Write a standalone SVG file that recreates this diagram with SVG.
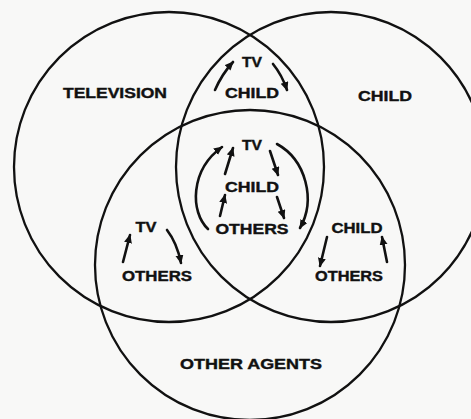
<svg xmlns="http://www.w3.org/2000/svg" width="471" height="419" viewBox="0 0 471 419">
<style>
.c{fill:none;stroke:#111;stroke-width:2.3}
.t{font-family:"Liberation Sans",Arial,sans-serif;font-weight:bold;font-size:15px;fill:#111;stroke:#111;stroke-width:0.4;text-anchor:middle}
.a{fill:none;stroke:#111;stroke-width:2.6;stroke-linecap:round;marker-end:url(#h)}
</style>
<defs>
<marker id="h" markerUnits="userSpaceOnUse" markerWidth="12" markerHeight="10" refX="8" refY="4" orient="auto">
<path d="M0,0 L9,4 L0,8 Z" fill="#111"/>
</marker>
</defs>
<rect width="471" height="419" fill="#f8f8f7"/>
<g id="television">
<circle class="c" cx="169" cy="167" r="155"/>
<text class="t" x="115" y="98" textLength="104" lengthAdjust="spacingAndGlyphs">TELEVISION</text>
</g>
<g id="child">
<circle class="c" cx="331" cy="167" r="155"/>
<text class="t" x="385" y="101" textLength="54" lengthAdjust="spacingAndGlyphs">CHILD</text>
</g>
<g id="other-agents">
<circle class="c" cx="250" cy="265" r="155"/>
<text class="t" x="251" y="369" textLength="142" lengthAdjust="spacingAndGlyphs">OTHER AGENTS</text>
</g>
<g id="tv-child">
<text class="t" x="252" y="67" textLength="20" lengthAdjust="spacingAndGlyphs">TV</text>
<text class="t" x="252" y="98" textLength="54" lengthAdjust="spacingAndGlyphs">CHILD</text>
</g>
<g id="all-three">
<text class="t" x="252" y="150" textLength="20" lengthAdjust="spacingAndGlyphs">TV</text>
<text class="t" x="252" y="192" textLength="54" lengthAdjust="spacingAndGlyphs">CHILD</text>
<text class="t" x="252" y="234" textLength="73" lengthAdjust="spacingAndGlyphs">OTHERS</text>
</g>
<g id="tv-others">
<text class="t" x="146" y="232" textLength="21" lengthAdjust="spacingAndGlyphs">TV</text>
<text class="t" x="157" y="281" textLength="70" lengthAdjust="spacingAndGlyphs">OTHERS</text>
</g>
<g id="child-others">
<text class="t" x="357" y="233" textLength="51" lengthAdjust="spacingAndGlyphs">CHILD</text>
<text class="t" x="349" y="281" textLength="68" lengthAdjust="spacingAndGlyphs">OTHERS</text>
</g>
<g id="connectors">
<path class="a" d="M215,90 Q222,74 233,62"/>
<path class="a" d="M273,64 Q282,75 287,90"/>
<path class="a" d="M208,229 C190,212 190,170 222,147"/>
<path class="a" d="M225,174 L233,148"/>
<path class="a" d="M220,216 L225,195"/>
<path class="a" d="M270,151 L278,175"/>
<path class="a" d="M277,197 L284,218"/>
<path class="a" d="M277,144 C306,160 316,200 300,228"/>
<path class="a" d="M123,262 L130,235"/>
<path class="a" d="M167,230 Q177,243 181,263"/>
<path class="a" d="M327,237 L320,266"/>
<path class="a" d="M387,262 L382,237"/>
</g>
</svg>
